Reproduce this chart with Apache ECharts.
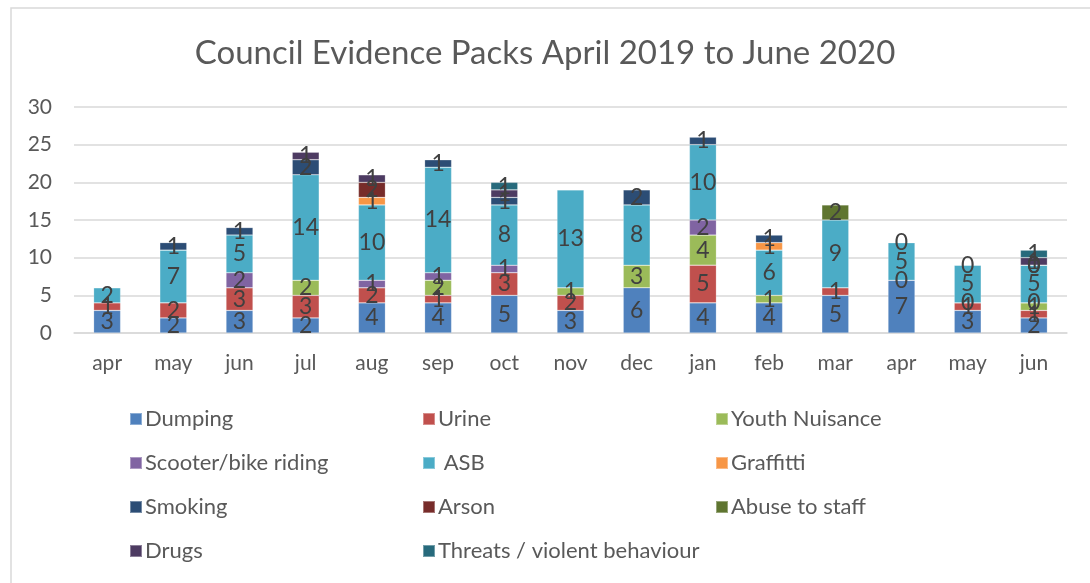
<!DOCTYPE html>
<html>
<head>
<meta charset="utf-8">
<script src="https://cdn.jsdelivr.net/npm/echarts@6/dist/echarts.min.js"></script>
<style>
html,body{margin:0;padding:0;background:#fff;}
#chart{width:1090px;height:583px;}
</style>
</head>
<body>
<div id="chart"></div>
<script>
var categories = ['apr','may','jun','jul','aug','sep','oct','nov','dec','jan','feb','mar','apr','may','jun'];
var N = null;
var dumping   = [3,2,3,2,4,4,5,3,6,4,4,5,7,3,2];
var urine     = [1,2,3,3,2,1,3,2,N,5,N,1,0,1,1];
var youth     = [N,N,N,2,N,2,N,1,3,4,1,N,N,0,1];
var scooter   = [N,N,2,N,1,1,1,N,N,2,N,N,N,N,0];
var asb       = [2,7,5,14,10,14,8,13,8,10,6,9,5,5,5];
var graffitti = [N,N,N,N,1,N,N,N,N,N,1,N,N,N,0];
var smoking   = [N,1,1,2,N,1,1,N,2,1,1,N,0,0,0];
var arson     = [N,N,N,N,2,N,N,N,N,N,N,N,N,N,N];
var abuse     = [N,N,N,N,N,N,N,N,N,N,N,2,N,N,N];
var drugs     = [N,N,N,1,1,N,1,N,N,N,N,N,N,N,1];
var threats   = [N,N,N,N,N,N,1,N,N,N,N,N,N,N,1];
var yTicks = [0,5,10,15,20,25,30];

var seriesDefs = [
  ['Dumping', dumping, '#4F81BD'],
  ['Urine', urine, '#C0504D'],
  ['Youth Nuisance', youth, '#9BBB59'],
  ['Scooter/bike riding', scooter, '#8064A2'],
  [' ASB', asb, '#4BACC6'],
  ['Graffitti', graffitti, '#F79646'],
  ['Smoking', smoking, '#2C4D75'],
  ['Arson', arson, '#772C2A'],
  ['Abuse to staff', abuse, '#5F7530'],
  ['Drugs', drugs, '#4D3B62'],
  ['Threats / violent behaviour', threats, '#276A7C']
];

var FONT = 'Lato, "Open Sans", sans-serif';

var series = seriesDefs.map(function(d){
  return {
    name: d[0], type: 'bar', stack: 'total', data: d[1],
    barWidth: 27,
    itemStyle: {color: d[2], borderColor: 'rgba(255,255,255,0.35)', borderWidth: 0.6},
    label: {show: true, position: 'inside', color: '#404040', fontSize: 23, fontFamily: FONT},
    emphasis: {disabled: true}
  };
});

function legendCol(names, left){
  return {
    orient: 'vertical', left: left, top: 403, itemGap: 22,
    icon: 'rect', itemWidth: 12, itemHeight: 12,
    textStyle: {fontSize: 22, color: '#595959', fontFamily: FONT, padding: [0,0,0,-2]},
    data: names, selectedMode: false
  };
}

var chart = echarts.init(document.getElementById('chart'));
chart.setOption({
  animation: false,
  backgroundColor: '#fff',
  title: {
    text: 'Council Evidence Packs April 2019 to June 2020',
    left: 'center', top: 32,
    textStyle: {fontSize: 33, fontWeight: 'normal', color: '#595959', fontFamily: FONT}
  },
  graphic: [{
    type: 'rect', shape: {x: 11, y: 8, width: 1200, height: 700},
    style: {fill: 'none', stroke: '#d9d9d9', lineWidth: 1.5}, silent: true, z: -1
  }],
  legend: [
    legendCol(['Dumping','Scooter/bike riding','Smoking','Drugs'], 124),
    legendCol(['Urine',' ASB','Arson','Threats / violent behaviour'], 417),
    legendCol(['Youth Nuisance','Graffitti','Abuse to staff'], 710)
  ],
  grid: {left: 74, right: 23, top: 107, bottom: 250},
  xAxis: {
    type: 'category', data: categories,
    axisLine: {lineStyle: {color: '#d9d9d9', width: 1.5}},
    axisTick: {show: false},
    axisLabel: {fontSize: 21, color: '#595959', margin: 20, fontFamily: FONT}
  },
  yAxis: {
    type: 'value', min: yTicks[0], max: yTicks[yTicks.length-1], interval: 5,
    axisLine: {show: false}, axisTick: {show: false},
    axisLabel: {fontSize: 21, color: '#595959', margin: 22, fontFamily: FONT},
    splitLine: {lineStyle: {color: '#d9d9d9', width: 1.5}}
  },
  series: series
});
</script>
</body>
</html>
